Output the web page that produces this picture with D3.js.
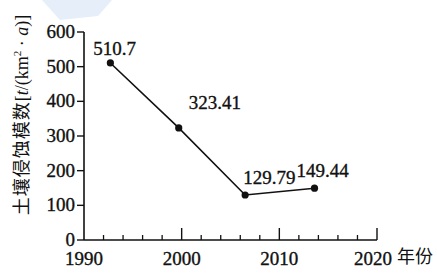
<!DOCTYPE html>
<html>
<head>
<meta charset="utf-8">
<script src="https://cdn.jsdelivr.net/npm/d3@7"></script>
<style>
  html, body { margin: 0; padding: 0; background: #fff; }
  svg { display: block; }
</style>
</head>
<body>
<svg id="chart" width="437" height="273"></svg>
<script>
// ---- data ----
const years = [1992.7, 1999.7, 2006.5, 2013.6];
const values = [510.7, 323.41, 129.79, 149.44];
const valueLabels = ["510.7", "323.41", "129.79", "149.44"];
const yTicks = [0, 100, 200, 300, 400, 500, 600];
const xMajorTicks = [1990, 2000, 2010, 2020];
const xMinorTicks = [1992, 1994, 1996, 1998, 2002, 2004, 2006, 2008, 2012, 2014, 2016, 2018];
const yTitle = "土壤侵蚀模数";
const xTitle = "年份";

// ---- layout ----
const serif = "Liberation Serif";
const cjk = "Noto Sans CJK SC";
const labelOffsets = [[-17, -8], [10, -19], [-2, -11], [-18, -11]];
const svg = d3.select("#chart");
const x = d3.scaleLinear().domain([1990, 2020]).range([84, 377]);
const y = d3.scaleLinear().domain([0, 600]).range([240, 32]);
const ink = "#111";

function heavy(sel) {
  return sel.attr("stroke", ink).attr("stroke-width", 0.35);
}

// faint watermark patch
svg.append("path")
  .attr("d", "M42,0 L112,0 L98,16 L60,20 Z")
  .attr("fill", "#e6eff9");

// y axis line
svg.append("line")
  .attr("x1", x(1990)).attr("x2", x(1990))
  .attr("y1", y(0)).attr("y2", y(600))
  .attr("stroke", ink).attr("stroke-width", 1.6);

// y ticks
svg.selectAll(".ytick").data(yTicks).enter().append("line")
  .attr("x1", x(1990) - 7).attr("x2", x(1990))
  .attr("y1", d => y(d)).attr("y2", d => y(d))
  .attr("stroke", ink).attr("stroke-width", 1.4);

heavy(svg.selectAll(".ylab").data(yTicks).enter().append("text")
  .attr("x", x(1990) - 9).attr("y", d => y(d) + 6)
  .attr("text-anchor", "end")
  .attr("font-family", serif)
  .attr("font-size", 19)
  .attr("fill", ink)
  .text(d => d));

// x axis line
svg.append("line")
  .attr("x1", x(1990)).attr("x2", x(2020))
  .attr("y1", y(0)).attr("y2", y(0))
  .attr("stroke", ink).attr("stroke-width", 1.6);

svg.selectAll(".xminor").data(xMinorTicks).enter().append("line")
  .attr("x1", d => x(d)).attr("x2", d => x(d))
  .attr("y1", y(0)).attr("y2", y(0) - 5)
  .attr("stroke", ink).attr("stroke-width", 1.3);

svg.selectAll(".xmajor").data(xMajorTicks.slice(1)).enter().append("line")
  .attr("x1", d => x(d)).attr("x2", d => x(d))
  .attr("y1", y(0)).attr("y2", y(0) - 12)
  .attr("stroke", ink).attr("stroke-width", 1.4);

heavy(svg.selectAll(".xlab").data(xMajorTicks).enter().append("text")
  .attr("x", d => x(d) - (d === 2020 ? 4 : 0)).attr("y", 265)
  .attr("text-anchor", "middle")
  .attr("font-family", serif)
  .attr("font-size", 19)
  .attr("fill", ink)
  .text(d => d));

svg.append("text")
  .attr("x", 397).attr("y", 263)
  .attr("font-family", cjk)
  .attr("font-size", 18)
  .attr("fill", ink)
  .text(xTitle);

// y title (rotated)
const yt = svg.append("text")
  .attr("transform", "translate(28,115) rotate(-90)")
  .attr("text-anchor", "middle")
  .attr("font-family", serif)
  .attr("font-size", 18)
  .attr("fill", ink);
yt.append("tspan").attr("font-family", cjk).attr("letter-spacing", 1).text(yTitle);
yt.append("tspan").text("[");
yt.append("tspan").attr("font-style", "italic").text("t");
yt.append("tspan").text("/(km");
yt.append("tspan").attr("dy", -7).attr("font-size", 11).text("2");
yt.append("tspan").attr("dy", 7).text(" · ");
yt.append("tspan").attr("font-style", "italic").text("a");
yt.append("tspan").text(")]");

// line
const pts = years.map((yr, i) => [yr, values[i]]);
svg.append("path")
  .datum(pts)
  .attr("fill", "none")
  .attr("stroke", ink)
  .attr("stroke-width", 1.6)
  .attr("d", d3.line().x(d => x(d[0])).y(d => y(d[1])));

svg.selectAll(".dot").data(pts).enter().append("circle")
  .attr("cx", d => x(d[0])).attr("cy", d => y(d[1]))
  .attr("r", 3.6).attr("fill", ink);

heavy(svg.selectAll(".vlab").data(pts).enter().append("text")
  .attr("x", (d, i) => x(d[0]) + labelOffsets[i][0])
  .attr("y", (d, i) => y(d[1]) + labelOffsets[i][1])
  .attr("font-family", serif)
  .attr("font-size", 19)
  .attr("fill", ink)
  .text((d, i) => valueLabels[i]));
</script>
</body>
</html>
